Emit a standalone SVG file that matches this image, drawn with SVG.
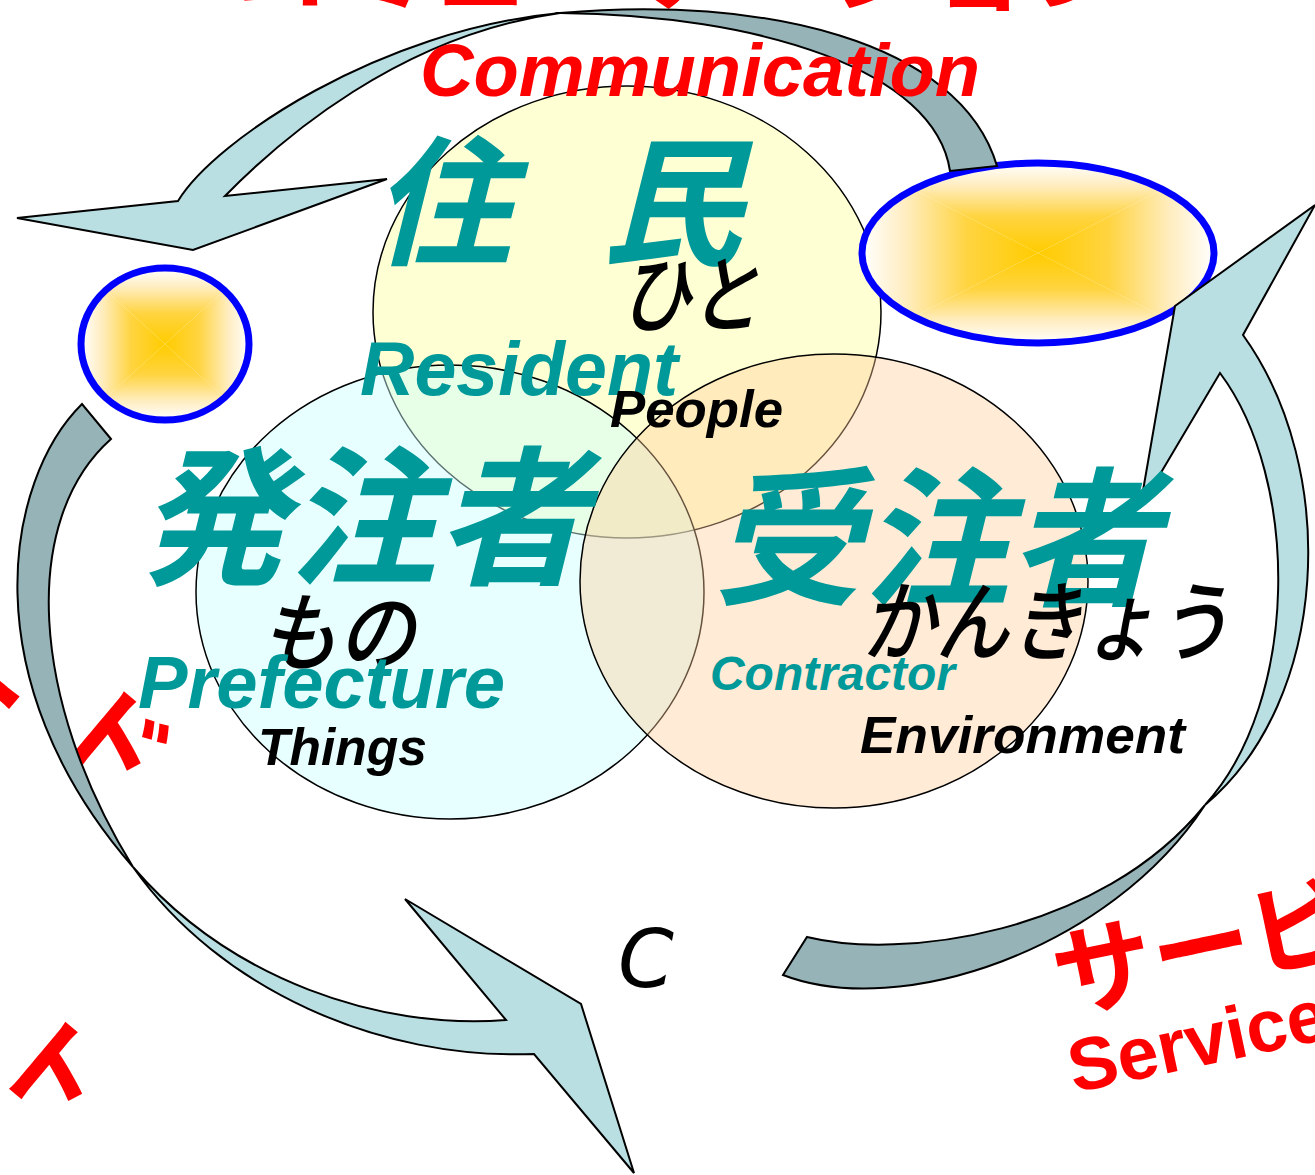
<svg xmlns="http://www.w3.org/2000/svg" width="1315" height="1175" viewBox="0 0 1315 1175">
<defs>
<linearGradient id="gT" x1="0" y1="1" x2="0" y2="0"><stop offset="0" stop-color="#FFCC00"/><stop offset="0.4" stop-color="#FFD440"/><stop offset="0.75" stop-color="#FFEDC0"/><stop offset="1" stop-color="#FFFFFF"/></linearGradient>
<linearGradient id="gB" x1="0" y1="0" x2="0" y2="1"><stop offset="0" stop-color="#FFCC00"/><stop offset="0.4" stop-color="#FFD440"/><stop offset="0.75" stop-color="#FFEDC0"/><stop offset="1" stop-color="#FFFFFF"/></linearGradient>
<linearGradient id="gL" x1="1" y1="0" x2="0" y2="0"><stop offset="0" stop-color="#FFCC00"/><stop offset="0.4" stop-color="#FFD440"/><stop offset="0.75" stop-color="#FFEDC0"/><stop offset="1" stop-color="#FFFFFF"/></linearGradient>
<linearGradient id="gR" x1="0" y1="0" x2="1" y2="0"><stop offset="0" stop-color="#FFCC00"/><stop offset="0.4" stop-color="#FFD440"/><stop offset="0.75" stop-color="#FFEDC0"/><stop offset="1" stop-color="#FFFFFF"/></linearGradient>
<clipPath id="clipL"><ellipse cx="165" cy="344" rx="84" ry="76"/></clipPath>
<clipPath id="clipR"><ellipse cx="1038" cy="253" rx="176" ry="90"/></clipPath>
<style>
.circ{stroke:#000;stroke-width:1.5}
.hl{stroke:#0000FF;stroke-width:7;fill:none}
.lt{fill:#B9DFE3;stroke:#000;stroke-width:2;stroke-linejoin:miter}
.dk{fill:#96B4B8;stroke:#000;stroke-width:2}
.jp{font-family:'Noto Sans CJK JP',sans-serif;font-style:italic;font-weight:bold}
.jpm{font-family:'Noto Sans CJK JP',sans-serif;font-style:italic;font-weight:500}
.jpn{font-family:'Noto Sans CJK JP',sans-serif;font-weight:bold}
.en{font-family:'Liberation Sans',Arial,sans-serif;font-weight:bold;font-style:italic}
.teal{fill:#009999}
.blk{fill:#000}
.red{fill:#FF0000}
</style>
</defs>
<rect width="1315" height="1175" fill="#FFFFFF"/>

<g id="red-labels">
<text class="jpn red" x="230" y="3" font-size="100" textLength="900">コミュニケーション</text>
<text class="jpn red" font-size="105" transform="translate(-165,605) rotate(40)">ハー<tspan dx="38" dy="-38">ド</tspan></text>
<text class="jpn red" font-size="105" transform="translate(-204,904) rotate(40)">ソフ<tspan dx="40">ト</tspan></text>
<text class="jpn red" font-size="100" transform="translate(1062,1014) rotate(-12)">サービス</text>
<text class="en red" font-size="74" style="font-style:normal" transform="translate(1074,1093) rotate(-12)">Service</text>
</g>

<g id="resident">
<ellipse class="circ" cx="627" cy="312" rx="254" ry="226" fill="#FFFFD4"/>
</g>
<g id="prefecture">
<ellipse class="circ" cx="450" cy="592" rx="254" ry="227" fill="#CCFFFF" fill-opacity="0.45"/>
</g>
<g id="contractor">
<ellipse class="circ" cx="834" cy="581" rx="254" ry="227" fill="#FFCC99" fill-opacity="0.4"/>
</g>

<g id="highlight-left">
<g clip-path="url(#clipL)">
<polygon points="81,268 249,268 165,344" fill="url(#gT)"/>
<polygon points="81,420 249,420 165,344" fill="url(#gB)"/>
<polygon points="81,268 81,420 165,344" fill="url(#gL)"/>
<polygon points="249,268 249,420 165,344" fill="url(#gR)"/>
</g>
<ellipse class="hl" cx="165" cy="344" rx="84" ry="76"/>
</g>
<g id="highlight-right">
<g clip-path="url(#clipR)">
<polygon points="862,163 1214,163 1038,253" fill="url(#gT)"/>
<polygon points="862,343 1214,343 1038,253" fill="url(#gB)"/>
<polygon points="862,163 862,343 1038,253" fill="url(#gL)"/>
<polygon points="1214,163 1214,343 1038,253" fill="url(#gR)"/>
</g>
<ellipse class="hl" cx="1038" cy="253" rx="176" ry="90"/>
</g>

<g id="connectors">
<path class="dk" d="M560,13 C760,-5 960,40 997,166 L950,171 C935,70 760,15 560,13 Z"/>
<path class="lt" d="M17,218 L178,201 C215,140 380,30 560,13 C400,35 280,140 225,196 L387,179 L193,250 Z"/>
<path class="lt" d="M1315,205 L1175,306 L1140,508 L1220,373 C1300,480 1300,700 1205,805 C1330,700 1340,470 1243,335 Z"/>
<path class="dk" d="M1205,805 C1110,950 900,1020 783,975 L807,937 C900,960 1100,935 1205,805 Z"/>
<path class="dk" d="M82,404 C5,480 -30,680 133,867 C30,700 20,520 111,439 Z"/>
<path class="lt" d="M133,867 C220,990 380,1060 534,1054 L634,1173 L581,1004 L405,899 L506,1020 C380,1030 230,980 133,867 Z"/>
</g>

<g id="labels">
<text class="en red" x="420" y="96" font-size="74" textLength="560" lengthAdjust="spacingAndGlyphs">Communication</text>
<text class="jp teal" x="372" y="254" font-size="140">住　<tspan x="602">民</tspan></text>
<text class="jpm blk" x="620" y="326" font-size="86" textLength="140" lengthAdjust="spacingAndGlyphs">ひと</text>
<text class="en teal" x="360" y="395" font-size="76" textLength="318" lengthAdjust="spacingAndGlyphs">Resident</text>
<text class="en blk" x="610" y="427" font-size="52" textLength="173" lengthAdjust="spacingAndGlyphs">People</text>
<text class="jp teal" x="138" y="573" font-size="150" textLength="448" lengthAdjust="spacingAndGlyphs">発注者</text>
<text class="jpm blk" x="260" y="664" font-size="86" textLength="155" lengthAdjust="spacingAndGlyphs">もの</text>
<text class="en teal" x="138" y="708" font-size="74" textLength="367" lengthAdjust="spacingAndGlyphs">Prefecture</text>
<text class="en blk" x="258" y="765" font-size="52" textLength="169" lengthAdjust="spacingAndGlyphs">Things</text>
<text class="jp teal" x="713" y="594" font-size="150" textLength="445" lengthAdjust="spacingAndGlyphs">受注者</text>
<text class="jpm blk" x="862" y="654" font-size="88" textLength="368" lengthAdjust="spacingAndGlyphs">かんきょう</text>
<text class="en teal" x="710" y="690" font-size="48" textLength="245" lengthAdjust="spacingAndGlyphs">Contractor</text>
<text class="en blk" x="860" y="753" font-size="52" textLength="325" lengthAdjust="spacingAndGlyphs">Environment</text>
<text x="618" y="987" font-size="80" font-family="'DejaVu Sans',sans-serif" font-style="italic" fill="#000">C</text>
</g>
</svg>
